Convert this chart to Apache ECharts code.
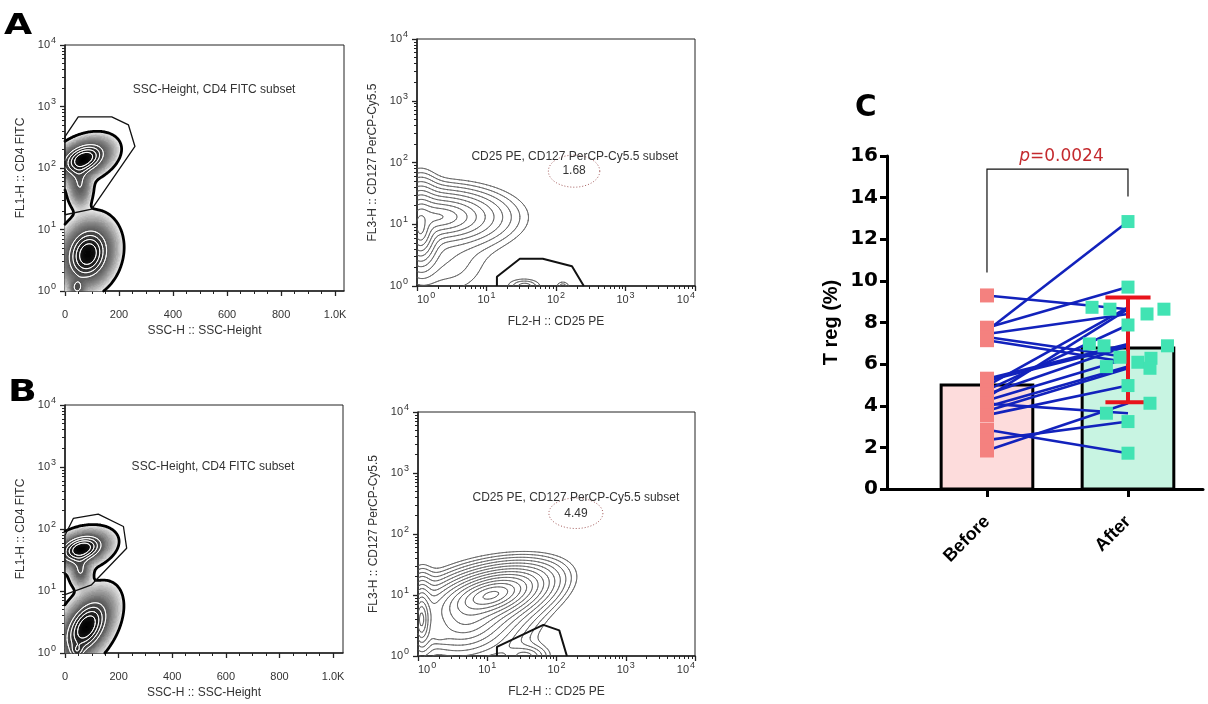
<!DOCTYPE html>
<html>
<head>
<meta charset="utf-8">
<title>Treg analysis</title>
<script src="https://cdn.jsdelivr.net/npm/echarts@6.0.0/dist/echarts.min.js"></script>
<style>
html,body{margin:0;padding:0;background:#ffffff;}
#chart{width:1208px;height:704px;}
</style>
</head>
<body>
<div id="chart"></div>
<script>
// ======================= DATA =======================
// Panel C : paired Treg percentages
const groups = ['Before', 'After'];
const barMeans = [5.0, 6.78];
const beforeValues = [9.30, 7.75, 7.60, 7.45, 7.30, 7.15, 5.30, 5.20, 4.95, 4.75, 4.55, 4.40, 4.25, 4.10, 3.95, 3.75, 3.55, 2.85, 2.35, 1.85];
const afterValues  = [8.64, 9.70, 12.85, 8.41, 6.33, 6.09, 6.97, 6.88, 8.73, 7.88, 6.88, 8.64, 6.28, 3.64, 5.88, 5.80, 4.97, 1.72, 3.24, 4.12];
const afterJitter  = [0.255, 0, 0, 0.135, -0.057, 0.07, -0.274, -0.17, -0.255, 0, 0.28, -0.128, 0.163, -0.153, -0.153, 0.156, 0, 0, 0, 0.156];
const afterSdRange = [4.17, 9.20];
const bracketLevels = [10.4, 15.37, 14.05];
const pValue = '0.0024';

// Flow plots : axis ticks
const logExponents = [0, 1, 2, 3, 4];
const sscTicks = [0, 200, 400, 600, 800, 1000];
const sscTickLabels = ['0', '200', '400', '600', '800', '1.0K'];
const sscMinorTicks = [50, 100, 150, 250, 300, 350, 450, 500, 550, 650, 700, 750, 850, 900, 950];

// Populations: [centre x, centre y (log10), sigma x, sigma y, correlation, weight]
const aLeftPops  = [[70, 2.15, 50, 0.16, 0.35, 1.0], [55, 1.72, 22, 0.18, 0, 0.35], [85, 0.60, 48, 0.26, 0.15, 1.0], [45, 0.05, 15, 0.08, 0, 0.35]];
const bLeftPops  = [[62, 1.68, 50, 0.14, 0.30, 1.0], [58, 1.32, 20, 0.13, 0, 0.35], [80, 0.42, 50, 0.27, 0.45, 1.0], [45, 0.03, 15, 0.07, 0, 0.30]];
const aRightPops = [[0.05, 0.95, 0.06, 0.15, 0, 1.0], [0.30, 1.12, 0.233, 0.11, 0, 0.55], [0.45, 0.40, 0.30, 0.30, 0, 0.012], [1.55, 0.0, 0.10, 0.05, 0, 0.02], [2.10, 0.0, 0.05, 0.04, 0, 0.012]];
const bRightPops = [[1.06, 1.00, 0.23, 0.13, 0.45, 1.0], [0.70, 0.55, 0.30, 0.25, 0.20, 0.2], [0.05, 0.60, 0.05, 0.18, 0, 0.5], [1.55, 0.0, 0.15, 0.08, 0, 0.05], [0.30, 0.32, 0.07, 0.06, 0, 0.05]];

// Gates
const aLeftGate  = [[0, 1.24], [99, 1.33], [259, 2.35], [235, 2.70], [173, 2.83], [49, 2.83], [0, 2.51], [0, 1.24]];
const bLeftGate  = [[0, 0.94], [99, 1.10], [230, 1.69], [218, 2.04], [124, 2.24], [31, 2.17], [0, 1.90], [0, 0.94]];
const aRightGate = [[1.15, 0], [1.15, 0.15], [1.48, 0.44], [1.81, 0.44], [2.23, 0.32], [2.40, 0]];
const bRightGate = [[1.14, 0], [1.14, 0.15], [1.81, 0.51], [2.04, 0.42], [2.15, 0]];
const aRightEllipse = [2.26, 1.86, 0.37, 0.26];
const bRightEllipse = [2.28, 2.34, 0.39, 0.25];
const aRightPct = '1.68';
const bRightPct = '4.49';
const leftSubsetText = 'SSC-Height, CD4 FITC subset';
const rightSubsetText = 'CD25 PE, CD127 PerCP-Cy5.5 subset';

// ======================= LAYOUT / STYLE =======================
const FONT = '"Liberation Sans", Arial, sans-serif';
const AX = '#222';
const TXT = '#333';
const layout = {
  aL: { left: 65, top: 45, width: 279, height: 246, xMax: 1033 },
  aR: { left: 417, top: 39, width: 278, height: 247 },
  bL: { left: 65, top: 405, width: 278, height: 248, xMax: 1037 },
  bR: { left: 418, top: 412, width: 277, height: 244 },
  c:  { left: 887, top: 156, width: 316, height: 333, xMin: -0.709, xMax: 1.532 }
};
const minorLog = [];
for (let d = 0; d < 4; d++) for (let k = 2; k <= 9; k++) minorLog.push(d + Math.log10(k));

const supRich = {
  b: { fontSize: 11, color: TXT, fontFamily: FONT },
  s: { fontSize: 9, color: TXT, fontFamily: FONT, padding: [0, 0, 9, 1] }
};
const supFmt = v => '{b|10}{s|' + Math.round(v) + '}';

// ======================= DENSITY HELPERS =======================
const gaussK = z => Math.exp(-z / 2);
const expK = z => Math.exp(1 - Math.sqrt(1 + z));
function density(pops, kernel, x, y) {
  let s = 0;
  for (const p of pops) {
    const [cx, cy, sx, sy, rho, w] = p;
    const u = (x - cx) / sx, v = (y - cy) / sy;
    const z = (u * u - 2 * rho * u * v + v * v) / (1 - rho * rho);
    s += w * kernel(z);
  }
  return s;
}
function sampleField(pops, kernel, xMax, nx, yMax, ny) {
  const dx = xMax / nx, dy = yMax / ny, f = [];
  let max = 0;
  for (let i = 0; i <= nx; i++) {
    const col = new Float64Array(ny + 1);
    for (let j = 0; j <= ny; j++) {
      const v = density(pops, kernel, i * dx, j * dy);
      col[j] = v;
      if (v > max) max = v;
    }
    f.push(col);
  }
  return { f, max, dx, dy, nx, ny, xMax, yMax };
}
function isoSegments(F, L) {
  const { f, dx, dy, nx, ny } = F, segs = [];
  for (let i = 0; i < nx; i++) {
    for (let j = 0; j < ny; j++) {
      const a = f[i][j], b = f[i + 1][j], c = f[i + 1][j + 1], d = f[i][j + 1];
      const k = (a > L ? 1 : 0) | (b > L ? 2 : 0) | (c > L ? 4 : 0) | (d > L ? 8 : 0);
      if (k === 0 || k === 15) continue;
      const X = i * dx, Y = j * dy;
      const B = () => [X + dx * (L - a) / (b - a), Y];
      const R = () => [X + dx, Y + dy * (L - b) / (c - b)];
      const T = () => [X + dx * (L - d) / (c - d), Y + dy];
      const Lf = () => [X, Y + dy * (L - a) / (d - a)];
      switch (k) {
        case 1: case 14: segs.push([Lf(), B()]); break;
        case 2: case 13: segs.push([B(), R()]); break;
        case 3: case 12: segs.push([Lf(), R()]); break;
        case 4: case 11: segs.push([R(), T()]); break;
        case 5: segs.push([Lf(), T()]); segs.push([B(), R()]); break;
        case 6: case 9: segs.push([B(), T()]); break;
        case 7: case 8: segs.push([Lf(), T()]); break;
        case 10: segs.push([Lf(), B()]); segs.push([R(), T()]); break;
      }
    }
  }
  return segs;
}
function contourSeries(F, rels, xi, yi, style, z) {
  const sets = rels.map(r => isoSegments(F, r * F.max));
  return {
    type: 'custom', xAxisIndex: xi, yAxisIndex: yi, z: z, silent: true, animation: false,
    data: sets.map(() => [1, 1]),
    renderItem(params, api) {
      const segs = sets[params.dataIndex];
      let d = '';
      for (const s of segs) {
        const p = api.coord(s[0]), q = api.coord(s[1]);
        d += 'M' + p[0].toFixed(2) + ' ' + p[1].toFixed(2) + 'L' + q[0].toFixed(2) + ' ' + q[1].toFixed(2);
      }
      if (!d) return null;
      return { type: 'path', shape: { pathData: d }, style: Object.assign({ fill: 'none', lineCap: 'round', lineJoin: 'round' }, style) };
    }
  };
}
function shadeSeries(F, t0, xi, yi, z) {
  const buckets = new Map();
  const span = Math.log(1 / t0);
  for (let i = 0; i <= F.nx; i++) {
    for (let j = 0; j <= F.ny; j++) {
      const t = F.f[i][j] / F.max;
      if (t <= t0) continue;
      const s = Math.min(1, Math.log(t / t0) / span);
      const g = Math.round(245 * Math.pow(1 - s, 0.8) / 4) * 4;
      if (!buckets.has(g)) buckets.set(g, []);
      buckets.get(g).push([i * F.dx, j * F.dy]);
    }
  }
  const keys = Array.from(buckets.keys());
  return {
    type: 'custom', xAxisIndex: xi, yAxisIndex: yi, z: z, silent: true, animation: false,
    data: keys.map(() => [1, 1]),
    renderItem(params, api) {
      const g = keys[params.dataIndex];
      let d = '';
      for (const c of buckets.get(g)) {
        const x0 = Math.max(0, c[0] - F.dx / 2), x1 = Math.min(F.xMax, c[0] + F.dx / 2);
        const y0 = Math.max(0, c[1] - F.dy / 2), y1 = Math.min(F.yMax, c[1] + F.dy / 2);
        const p = api.coord([x0, y1]), q = api.coord([x1, y0]);
        const ax = (p[0] - 0.35).toFixed(2), ay = (p[1] - 0.35).toFixed(2), bx = (q[0] + 0.35).toFixed(2), by = (q[1] + 0.35).toFixed(2);
        d += 'M' + ax + ' ' + ay + 'L' + bx + ' ' + ay + 'L' + bx + ' ' + by + 'L' + ax + ' ' + by + 'Z';
      }
      return { type: 'path', shape: { pathData: d }, style: { fill: 'rgb(' + g + ',' + g + ',' + g + ')', stroke: null } };
    }
  };
}
function gateSeries(points, xi, yi, width) {
  return {
    type: 'line', xAxisIndex: xi, yAxisIndex: yi, data: points, symbol: 'none', silent: true, z: 6,
    lineStyle: { color: '#111', width: width }, animation: false
  };
}
function ellipseSeries(ell, xi, yi) {
  return {
    type: 'custom', xAxisIndex: xi, yAxisIndex: yi, z: 6, silent: true, animation: false,
    data: [[ell[0], ell[1], ell[2], ell[3]]],
    renderItem(params, api) {
      const c = api.coord([api.value(0), api.value(1)]);
      const rx = api.size([api.value(2), 0])[0], ry = api.size([0, api.value(3)])[1];
      const pts = [];
      for (let k = 0; k <= 60; k++) {
        const a = k / 60 * Math.PI * 2;
        pts.push([c[0] + rx * Math.cos(a), c[1] + ry * Math.sin(a)]);
      }
      return { type: 'polyline', shape: { points: pts }, style: { fill: 'none', stroke: '#a35a5a', lineWidth: 1, lineDash: [1, 2] } };
    }
  };
}
function noteSeries(notes, xi, yi) {
  return {
    type: 'custom', xAxisIndex: xi, yAxisIndex: yi, z: 7, silent: true, animation: false,
    data: notes.map(n => n.pos),
    renderItem(params, api) {
      const n = notes[params.dataIndex];
      const p = api.coord(n.pos);
      return { type: 'text', x: p[0], y: p[1], style: { text: n.text, fill: TXT, font: '12px ' + FONT, align: 'center', verticalAlign: 'middle' } };
    }
  };
}

// ======================= AXES =======================
function flowX(gridIndex, max, isLog, name, nameGap) {
  const major = isLog ? logExponents : sscTicks;
  return [{
    type: 'value', gridIndex, min: 0, max, position: 'bottom',
    axisLine: { show: true, onZero: false, lineStyle: { color: AX, width: 1.6 } },
    axisTick: { show: true, customValues: major, length: 5, lineStyle: { color: AX, width: 1.3 } },
    axisLabel: isLog
      ? { customValues: major, formatter: supFmt, rich: supRich, margin: 5, alignMinLabel: 'left', alignMaxLabel: 'right', fontFamily: FONT }
      : { customValues: major, formatter: v => sscTickLabels[sscTicks.indexOf(Math.round(v))], margin: 18, color: TXT, fontSize: 11, fontFamily: FONT },
    splitLine: { show: false },
    name, nameLocation: 'middle', nameGap, nameTextStyle: { color: TXT, fontSize: 12, fontFamily: FONT }
  }, {
    type: 'value', gridIndex, min: 0, max, position: 'bottom',
    axisLine: { show: false },
    axisTick: { show: true, customValues: isLog ? minorLog : sscMinorTicks, length: 3, lineStyle: { color: AX, width: 1 } },
    axisLabel: { show: false }, splitLine: { show: false }
  }];
}
function flowY(gridIndex, name, nameGap) {
  return [{
    type: 'value', gridIndex, min: 0, max: 4, position: 'left',
    axisLine: { show: true, onZero: false, lineStyle: { color: AX, width: 1.6 } },
    axisTick: { show: true, customValues: logExponents, length: 5, lineStyle: { color: AX, width: 1.3 } },
    axisLabel: { customValues: logExponents, formatter: supFmt, rich: supRich, margin: 9, fontFamily: FONT },
    splitLine: { show: false },
    name, nameLocation: 'middle', nameGap, nameTextStyle: { color: TXT, fontSize: 12, fontFamily: FONT }
  }, {
    type: 'value', gridIndex, min: 0, max: 4, position: 'left',
    axisLine: { show: false },
    axisTick: { show: true, customValues: minorLog, length: 3, lineStyle: { color: AX, width: 1 } },
    axisLabel: { show: false }, splitLine: { show: false }
  }];
}

const xAxes = [].concat(
  flowX(0, layout.aL.xMax, false, 'SSC-H :: SSC-Height', 34),
  flowX(1, 4, true, 'FL2-H :: CD25 PE', 30),
  flowX(2, layout.bL.xMax, false, 'SSC-H :: SSC-Height', 34),
  flowX(3, 4, true, 'FL2-H :: CD25 PE', 30),
  [{
    type: 'value', gridIndex: 4, min: layout.c.xMin, max: layout.c.xMax, position: 'bottom',
    axisLine: { show: true, onZero: false, lineStyle: { color: '#000', width: 3 } },
    axisTick: { show: true, customValues: [0, 1], length: 8, lineStyle: { color: '#000', width: 3 } },
    axisLabel: { customValues: [0, 1], formatter: v => groups[Math.round(v)], rotate: 45, margin: 30,
      fontFamily: FONT, fontWeight: 'bold', fontSize: 18, color: '#000' },
    splitLine: { show: false }
  }]
);
const yAxes = [].concat(
  flowY(0, 'FL1-H :: CD4 FITC', 38),
  flowY(1, 'FL3-H :: CD127 PerCP-Cy5.5', 38),
  flowY(2, 'FL1-H :: CD4 FITC', 38),
  flowY(3, 'FL3-H :: CD127 PerCP-Cy5.5', 38),
  [{
    type: 'value', gridIndex: 4, min: 0, max: 16, interval: 2, position: 'left',
    axisLine: { show: true, onZero: false, lineStyle: { color: '#000', width: 3 } },
    axisTick: { show: true, length: 7, lineStyle: { color: '#000', width: 3 } },
    axisLabel: { margin: 9, fontFamily: '"DejaVu Sans", sans-serif', fontWeight: 'bold', fontSize: 20, color: '#000' },
    splitLine: { show: false },
    name: 'T reg (%)', nameLocation: 'middle', nameGap: 46,
    nameTextStyle: { fontFamily: FONT, fontWeight: 'bold', fontSize: 20, color: '#000' }
  }]
);

// ======================= FLOW FIELDS =======================
const fAL = sampleField(aLeftPops, gaussK, layout.aL.xMax, 258, 4, 200);
const fBL = sampleField(bLeftPops, gaussK, layout.bL.xMax, 258, 4, 200);
const fAR = sampleField(aRightPops, expK, 4, 200, 4, 200);
const fBR = sampleField(bRightPops, expK, 4, 200, 4, 200);

const rimLevel = 0.02;
const ringLevels = [0.35, 0.5, 0.65, 0.8];
function geo(start, ratio, n) { const a = []; for (let k = 0; k < n; k++) a.push(start * Math.pow(ratio, k)); return a; }
const aRightLevels = geo(0.75, 0.6, 11);
const bRightLevels = geo(0.9, 0.72, 14);

const contourStyle = { stroke: '#5a5a5a', lineWidth: 0.8 };

const series = [
  // A left
  shadeSeries(fAL, rimLevel, 0, 0, 1),
  contourSeries(fAL, ringLevels, 0, 0, { stroke: '#ffffff', lineWidth: 1 }, 2),
  contourSeries(fAL, [rimLevel], 0, 0, { stroke: '#000', lineWidth: 2.8 }, 3),
  gateSeries(aLeftGate, 0, 0, 1.3),
  noteSeries([{ pos: [552, 3.28], text: leftSubsetText }], 0, 0),
  // A right
  contourSeries(fAR, aRightLevels, 2, 2, contourStyle, 2),
  gateSeries(aRightGate, 2, 2, 2),
  ellipseSeries(aRightEllipse, 2, 2),
  noteSeries([{ pos: [2.27, 2.1], text: rightSubsetText }, { pos: [aRightEllipse[0], aRightEllipse[1]], text: aRightPct }], 2, 2),
  // B left
  shadeSeries(fBL, rimLevel, 4, 4, 1),
  contourSeries(fBL, ringLevels, 4, 4, { stroke: '#ffffff', lineWidth: 1 }, 2),
  contourSeries(fBL, [rimLevel], 4, 4, { stroke: '#000', lineWidth: 2.8 }, 3),
  gateSeries(bLeftGate, 4, 4, 1.3),
  noteSeries([{ pos: [552, 3.0], text: leftSubsetText }], 4, 4),
  // B right
  contourSeries(fBR, bRightLevels, 6, 6, contourStyle, 2),
  gateSeries(bRightGate, 6, 6, 2),
  ellipseSeries(bRightEllipse, 6, 6),
  noteSeries([{ pos: [2.28, 2.6], text: rightSubsetText }, { pos: [bRightEllipse[0], bRightEllipse[1]], text: bRightPct }], 6, 6),

  // ---------- Panel C ----------
  {
    type: 'custom', xAxisIndex: 8, yAxisIndex: 8, z: 1, silent: true, animation: false,
    data: barMeans.map((m, i) => [i, m]),
    renderItem(params, api) {
      const i = api.value(0), m = api.value(1);
      const p = api.coord([i - 0.325, m]), q = api.coord([i + 0.325, 0]);
      return { type: 'rect', shape: { x: p[0], y: p[1], width: q[0] - p[0], height: q[1] - p[1] },
        style: { fill: i === 0 ? '#fddcdc' : '#c8f4e2', stroke: '#000', lineWidth: 3 } };
    }
  },
  {
    type: 'custom', xAxisIndex: 8, yAxisIndex: 8, z: 2, silent: true, animation: false,
    data: beforeValues.map((b, i) => [0, b, 1, afterValues[i]]),
    encode: { x: [0, 2], y: [1, 3] },
    renderItem(params, api) {
      const p = api.coord([api.value(0), api.value(1)]), q = api.coord([api.value(2), api.value(3)]);
      return { type: 'line', shape: { x1: p[0], y1: p[1], x2: q[0], y2: q[1] }, style: { stroke: '#1222bc', lineWidth: 2.6 } };
    }
  },
  {
    type: 'custom', xAxisIndex: 8, yAxisIndex: 8, z: 3, silent: true, animation: false,
    data: [[1, afterSdRange[0], afterSdRange[1]]],
    encode: { x: 0, y: [1, 2] },
    renderItem(params, api) {
      const lo = api.coord([api.value(0), api.value(1)]), hi = api.coord([api.value(0), api.value(2)]);
      const hw = api.size([0.16, 0])[0];
      const st = { stroke: '#e8141c', lineWidth: 4 };
      return { type: 'group', children: [
        { type: 'line', shape: { x1: lo[0], y1: lo[1], x2: hi[0], y2: hi[1] }, style: st },
        { type: 'line', shape: { x1: lo[0] - hw, y1: lo[1], x2: lo[0] + hw, y2: lo[1] }, style: st },
        { type: 'line', shape: { x1: hi[0] - hw, y1: hi[1], x2: hi[0] + hw, y2: hi[1] }, style: st }
      ] };
    }
  },
  {
    type: 'scatter', xAxisIndex: 8, yAxisIndex: 8, z: 4, silent: true, animation: false,
    symbol: 'rect', symbolSize: 14, itemStyle: { color: '#f4817f', opacity: 1 },
    data: beforeValues.map(v => [0, v])
  },
  {
    type: 'scatter', xAxisIndex: 8, yAxisIndex: 8, z: 4, silent: true, animation: false,
    symbol: 'rect', symbolSize: 13, itemStyle: { color: '#41e3b3', opacity: 1 },
    data: afterValues.map((v, i) => [1 + afterJitter[i], v])
  },
  {
    type: 'custom', xAxisIndex: 8, yAxisIndex: 8, z: 5, silent: true, animation: false,
    data: [[0, bracketLevels[0], 1, bracketLevels[1], bracketLevels[2]]],
    encode: { x: [0, 2], y: [1, 3, 4] },
    renderItem(params, api) {
      const x0 = api.value(0), x1 = api.value(2);
      const a = api.coord([x0, api.value(1)]), b = api.coord([x0, api.value(3)]);
      const c = api.coord([x1, api.value(3)]), d = api.coord([x1, api.value(4)]);
      const mid = api.coord([(x0 + x1) / 2, api.value(3)]);
      return { type: 'group', children: [
        { type: 'polyline', shape: { points: [a, b, c, d] }, style: { fill: 'none', stroke: '#111', lineWidth: 1.2 } },
        { type: 'text', x: mid[0] + 4, y: mid[1] - 13, style: {
          text: '{i|p}{n|=' + pValue + '}', align: 'center', verticalAlign: 'middle',
          rich: {
            i: { fontFamily: '"DejaVu Sans", sans-serif', fontStyle: 'italic', fontSize: 17, fill: '#c42a2e' },
            n: { fontFamily: '"DejaVu Sans", sans-serif', fontSize: 17, fill: '#c42a2e' }
          } } }
      ] };
    }
  }
];

const grids = [
  { left: layout.aL.left, top: layout.aL.top, width: layout.aL.width, height: layout.aL.height, show: true, borderColor: AX, borderWidth: 1 },
  { left: layout.aR.left, top: layout.aR.top, width: layout.aR.width, height: layout.aR.height, show: true, borderColor: AX, borderWidth: 1 },
  { left: layout.bL.left, top: layout.bL.top, width: layout.bL.width, height: layout.bL.height, show: true, borderColor: AX, borderWidth: 1 },
  { left: layout.bR.left, top: layout.bR.top, width: layout.bR.width, height: layout.bR.height, show: true, borderColor: AX, borderWidth: 1 },
  { left: layout.c.left, top: layout.c.top, width: layout.c.width, height: layout.c.height, show: false }
];

const letterFont = 'bold {s}px "DejaVu Sans", sans-serif';
const option = {
  animation: false,
  backgroundColor: '#ffffff',
  textStyle: { fontFamily: FONT },
  grid: grids,
  xAxis: xAxes,
  yAxis: yAxes,
  series: series,
  graphic: [
    { type: 'text', x: 4, y: 27, scaleX: 1.3, style: { text: 'A', font: letterFont.replace('{s}', 28), fill: '#000', align: 'left', verticalAlign: 'middle' } },
    { type: 'text', x: 8, y: 393, scaleX: 1.22, style: { text: 'B', font: letterFont.replace('{s}', 31), fill: '#000', align: 'left', verticalAlign: 'middle' } },
    { type: 'text', x: 855, y: 108, scaleX: 0.95, style: { text: 'C', font: letterFont.replace('{s}', 31), fill: '#000', align: 'left', verticalAlign: 'middle' } }
  ]
};

const chart = echarts.init(document.getElementById('chart'), null, { renderer: 'canvas' });
chart.setOption(option);
</script>
</body>
</html>
